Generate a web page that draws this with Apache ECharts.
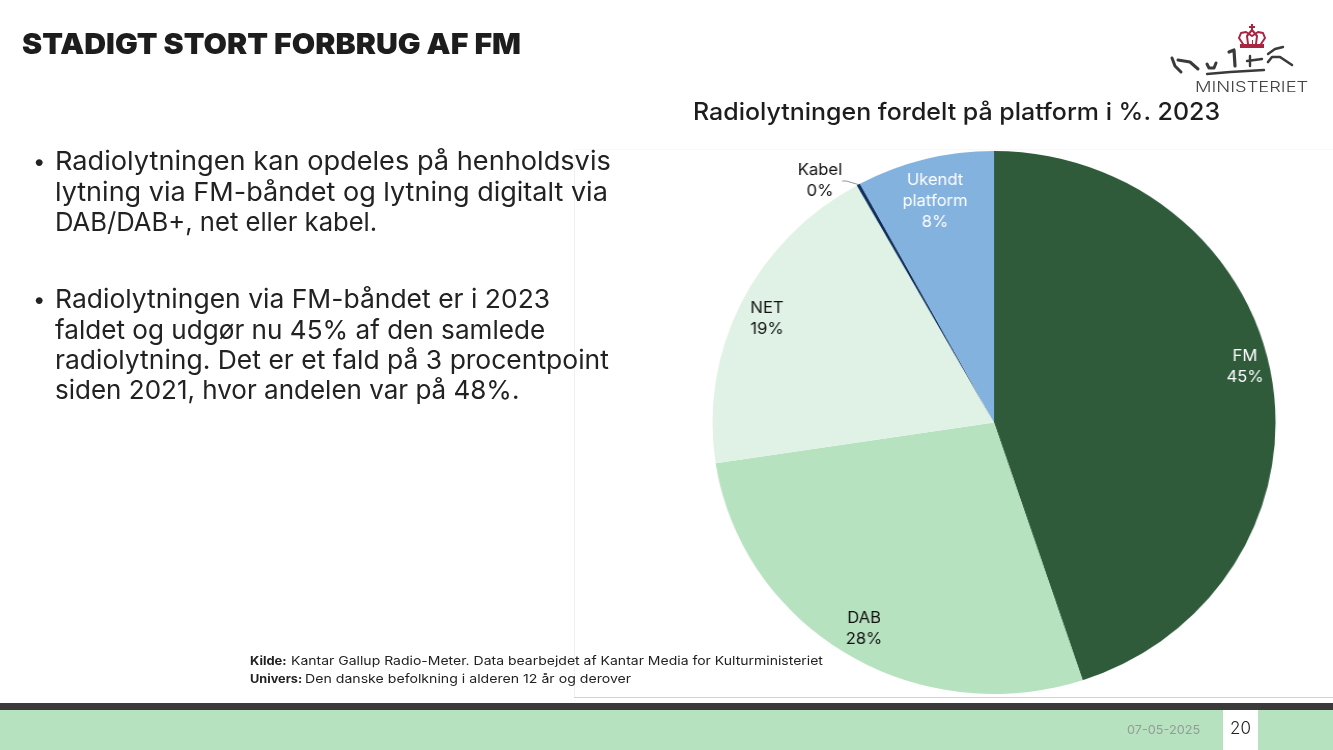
<!DOCTYPE html>
<html><head><meta charset="utf-8">
<style>html,body{margin:0;padding:0;background:#fff;overflow:hidden;width:1333px;height:750px}
#bg{position:absolute;left:0;top:0;width:1333px;height:750px}
#pie{position:absolute;left:694px;top:0;width:600px;height:750px;transform:scaleX(1.037);transform-origin:300px 0}</style>
<script src="https://cdn.jsdelivr.net/npm/echarts@6/dist/echarts.min.js"></script>
</head><body><div id="bg"></div><div id="pie"></div>
<script>
const categories=['FM','DAB','NET','Kabel','Ukendt\nplatform'];
const values=[44.9,27.7,19.3,0.2,7.9];
const colors=['#2f5b3b','#b7e2c0','#e0f2e5','#0c2f5c','#84b2de'];
const labelColors=['#ffffff','#111111','#111111','#111111','#ffffff'];
const labelCentres=[[1245,367],[864,629],[767,319],[820,181],[935,201]];
const titleText='STADIGT STORT FORBRUG AF FM';
const chartTitle='Radiolytningen fordelt på platform i %. 2023';
const bullets=[
 ['Radiolytningen kan opdeles på henholdsvis',162,true,1.045],
 ['lytning via FM-båndet og lytning digitalt via',193,false,1.04],
 ['DAB/DAB+, net eller kabel.',223,false,0.985],
 ['Radiolytningen via FM-båndet er i 2023',300,true,1.018],
 ['faldet og udgør nu 45% af den samlede',331,false,1.004],
 ['radiolytning. Det er et fald på 3 procentpoint',361,false,1.018],
 ['siden 2021, hvor andelen var på 48%.',391,false,1]];
const F='Inter, Roboto, sans-serif';
const t=(x,y,text,o,sx)=>({type:'text',x,y,scaleX:sx||1,silent:true,style:Object.assign({text,fill:'#222',font:'400 15px '+F,textVerticalAlign:'middle'},o||{})});
const r=(x,y,w,h,fill)=>({type:'rect',shape:{x,y,width:w,height:h},silent:true,style:{fill}});
const pl=(pts,stroke,lw)=>({type:'polyline',silent:true,shape:{points:pts,smooth:0},style:{fill:'none',stroke,lineWidth:lw,lineCap:'round',lineJoin:'round'}});
const g=[
 r(574,150,1,547,'#f0f0f0'),r(574,149,759,1,'#f8f8f8'),r(574,697,759,1,'#d2d2d2'),
 r(0,703,1333,7,'#3a3a3a'),r(0,710,1333,40,'#b7e2c0'),r(1223,710,35,40,'#ffffff'),
 t(22,45,titleText,{font:'900 29px '+F,fill:'#1d1d1d'},1.044),
 t(693,113,chartTitle,{font:'500 24px '+F,fill:'#1d1d1d'},1.04),
 t(250,661,'Kilde:',{font:'700 12px '+F},1.08),t(291,661,'Kantar Gallup Radio-Meter. Data bearbejdet af Kantar Media for Kulturministeriet',{font:'400 12px '+F},1.167),
 t(250,679,'Univers:',{font:'700 12px '+F},1.06),t(305,679,'Den danske befolkning i alderen 12 år og derover',{font:'400 12px '+F},1.177),
 t(1127,730,'07-05-2025',{font:'400 12px '+F,fill:'#939d95'},1.06),
 t(1230,729,'20',{font:'300 17px '+F,fill:'#222'}),
 t(1195,88,'MINISTERIET',{font:'300 14px '+F,fill:'#444'},1.31),
 // logo: crown
 pl([[1243,44],[1239,38],[1241,33],[1246,32],[1252,36],[1258,32],[1263,33],[1265,38],[1261,44]],'#a8243f',2),
 pl([[1248,44],[1247,36],[1252,30],[1257,36],[1256,44]],'#a8243f',2),
 r(1252,40,1,5,'#a8243f'),
 r(1240,44,24,4,'#a8243f'),r(1251,24,2,7,'#a8243f'),r(1249,26,6,2,'#a8243f'),
 // logo: signature strokes
 pl([[1172,58],[1175,66],[1181,72]],'#3a3a3a',3),pl([[1178,60],[1190,62],[1198,69]],'#3a3a3a',3),
 pl([[1207,64],[1209,68],[1214,68],[1216,63]],'#3a3a3a',3),pl([[1229,52],[1234,50],[1235,66]],'#3a3a3a',3.2),
 pl([[1207,74],[1230,72],[1264,70]],'#3a3a3a',2.4),pl([[1247,61],[1262,59]],'#3a3a3a',2.4),pl([[1250,56],[1250,66]],'#3a3a3a',2.4),
 pl([[1268,54],[1275,49],[1283,47]],'#3a3a3a',2.4),pl([[1268,62],[1272,57],[1280,57],[1292,65]],'#3a3a3a',2.6)
];
g.push(...bullets.map(b=>t(55,b[1],b[0],{font:'400 26px '+F,fill:'#222'},b[3])));
bullets.filter(b=>b[2]).forEach(b=>g.push(t(33,b[1],'•',{font:'400 22px '+F,fill:'#222'})));
const bg=echarts.init(document.getElementById('bg'),null,{renderer:'canvas'});
bg.setOption({animation:false,graphic:{elements:g}});
const toLocal=p=>[300+(p[0]-994)/1.037,p[1]];
const pie=echarts.init(document.getElementById('pie'),null,{renderer:'canvas'});
pie.setOption({animation:false,series:[{type:'pie',center:[300,422.5],radius:[0,271.5],startAngle:90,clockwise:true,minAngle:0,avoidLabelOverlap:false,
 data:categories.map((n,i)=>({name:n,value:values[i],itemStyle:{color:colors[i]},
   label:{color:labelColors[i],position:i===3?'outside':'inside'},
   labelLine:{show:i===3,smooth:false,length:6,length2:4,lineStyle:{color:'#777',width:0.8}}})),
 label:{show:true,fontFamily:F,fontSize:16,lineHeight:21,align:'center',verticalAlign:'middle',formatter:p=>p.name+'\n'+Math.round(p.value)+'%'},
 labelLayout:p=>{const c=toLocal(labelCentres[p.dataIndex]);return {x:c[0],y:c[1],align:'center',verticalAlign:'middle'};}
}]});
</script></body></html>
